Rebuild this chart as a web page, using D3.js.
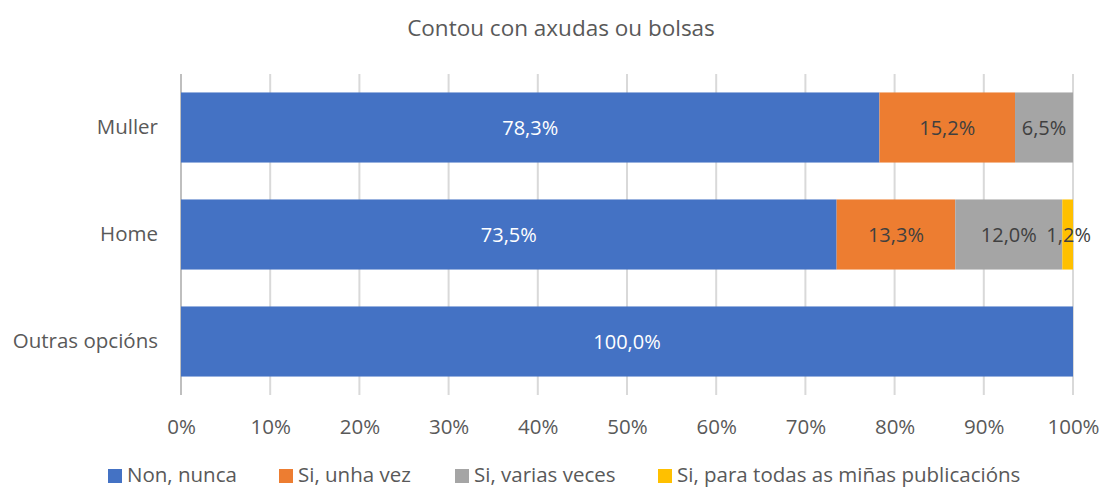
<!DOCTYPE html>
<html><head><meta charset="utf-8">
<script src="https://cdn.jsdelivr.net/npm/d3@7"></script>
<style>body{margin:0;background:#fff;} svg{display:block;}</style>
</head><body>
<svg id="c" width="1101" height="488"></svg>
<script>
const categories = ["Muller", "Home", "Outras opcións"];
const seriesNames = ["Non, nunca", "Si, unha vez", "Si, varias veces", "Si, para todas as miñas publicacións"];
const nonNunca = [78.3, 73.5, 100.0];
const unhaVez = [15.2, 13.3, 0];
const variasVeces = [6.5, 12.0, 0];
const todas = [0, 1.2, 0];
const tickValues = [0,10,20,30,40,50,60,70,80,90,100];
const colors = ["#4472C4", "#ED7D31", "#A5A5A5", "#FFC000"];
const labelColors = ["#ffffff", "#404040", "#404040", "#404040"];
const title = "Contou con axudas ou bolsas";

const font = "'Open Sans', sans-serif";
const svg = d3.select("#c");
const x = d3.scaleLinear().domain([0,100]).range([181,1073]);
const y = d3.scaleBand().domain(categories).range([74,395]).paddingInner(0.345).paddingOuter(0.1725);

svg.append("text").attr("x",561).attr("y",36).attr("text-anchor","middle")
  .attr("font-family",font).attr("font-size",22.5).attr("fill","#595959").text(title);

// gridlines
const grid = svg.append("g");
grid.selectAll("line").data(tickValues).join("line")
  .attr("x1",d=>x(d)).attr("x2",d=>x(d)).attr("y1",74).attr("y2",395)
  .attr("stroke",d=>d===0?"#BFBFBF":"#D9D9D9").attr("stroke-width",2);

// axis
const xAxis = d3.axisBottom(x).tickValues(tickValues).tickFormat(d=>d+"%").tickSize(0).tickPadding(0);
const ax = svg.append("g").attr("transform","translate(0,434)").call(xAxis);
ax.select(".domain").remove();
ax.selectAll("text").attr("font-family",font).attr("font-size",20.5).attr("fill","#595959").attr("dy",0);

const yAxis = d3.axisLeft(y).tickSize(0).tickPadding(0);
const ay = svg.append("g").attr("transform","translate(158,0)").call(yAxis);
ay.select(".domain").remove();
ay.selectAll("text").attr("font-family",font).attr("font-size",20.5).attr("fill","#595959");

const seriesData = [nonNunca, unhaVez, variasVeces, todas];
const rows = categories.map((c,i)=>{
  const o = {cat:c};
  seriesNames.forEach((s,j)=>o[s]=seriesData[j][i]);
  return o;
});
const stack = d3.stack().keys(seriesNames)(rows);

stack.forEach((layer,j)=>{
  const g = svg.append("g");
  g.selectAll("rect").data(layer).join("rect")
    .attr("x",d=>x(d[0])).attr("width",d=>x(d[1])-x(d[0]))
    .attr("y",d=>y(d.data.cat)).attr("height",y.bandwidth())
    .attr("fill",colors[j]);
});
stack.forEach((layer,j)=>{
  const g = svg.append("g");
  g.selectAll("text").data(layer.filter(d=>d[1]-d[0]>0)).join("text")
    .attr("x",d=>(x(d[0])+x(d[1]))/2 + (d[1]-d[0]<3?1:0))
    .attr("y",d=>y(d.data.cat)+y.bandwidth()/2)
    .attr("dy","0.35em").attr("text-anchor","middle")
    .attr("font-family",font).attr("font-size",20).attr("fill",labelColors[j])
    .text(d=>d3.format(".1f")(d[1]-d[0]).replace(".",",")+"%");
});

// legend
const legX = [108, 279, 455, 658];
const leg = svg.append("g");
seriesNames.forEach((s,j)=>{
  leg.append("rect").attr("x",legX[j]).attr("y",469).attr("width",14).attr("height",14).attr("fill",colors[j]);
  leg.append("text").attr("x",legX[j]+19).attr("y",482).attr("font-family",font).attr("font-size",20.5)
    .attr("fill","#595959").text(s);
});
</script>
</body></html>
